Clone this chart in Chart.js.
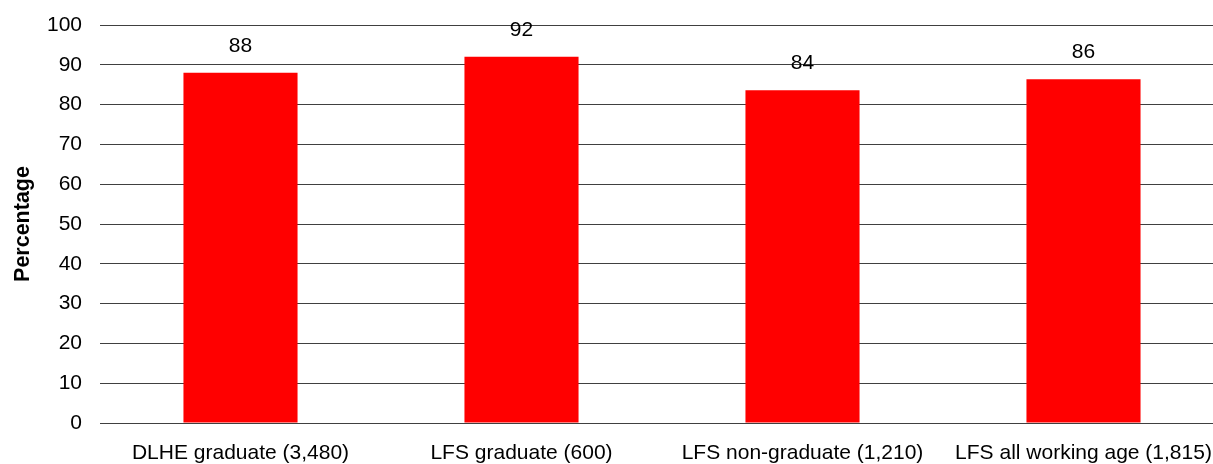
<!DOCTYPE html>
<html>
<head>
<meta charset="utf-8">
<script src="https://cdn.jsdelivr.net/npm/chart.js@4/dist/chart.umd.min.js"></script>
<style>
  html, body { margin: 0; padding: 0; overflow: hidden; background: #fff; }
  #wrap { width: 1224px; height: 464px; }
</style>
</head>
<body>
<div id="wrap"><canvas id="chart" width="1224" height="464"></canvas></div>
<script>
var categories = [
    "DLHE graduate (3,480)",
    "LFS graduate (600)",
    "LFS non-graduate (1,210)",
    "LFS all working age (1,815)"
];
var percentages = [88, 92, 83.6, 86.4];
var yTicks = [0, 10, 20, 30, 40, 50, 60, 70, 80, 90, 100];

var FONT = "'Liberation Sans', Arial, sans-serif";

// draw rounded values above each bar
var barLabels = {
    id: "barLabels",
    afterDatasetsDraw: function(chart) {
        var ctx = chart.ctx;
        var meta = chart.getDatasetMeta(0);
        ctx.save();
        ctx.font = "21px " + FONT;
        ctx.fillStyle = "#000";
        ctx.textAlign = "center";
        ctx.textBaseline = "middle";
        meta.data.forEach(function(bar, i) {
            ctx.fillText(Math.round(percentages[i]), bar.x, bar.y - 27);
        });
        ctx.restore();
    }
};

var chart = new Chart(document.getElementById("chart"), {
    type: "bar",
    data: {
        labels: categories,
        datasets: [{
            data: percentages,
            backgroundColor: "#ff0000",
            borderWidth: 0,
            barPercentage: 0.406,
            categoryPercentage: 1.0,
        }]
    },
    options: {
        responsive: false,
        animation: false,
        devicePixelRatio: 1,
        layout: {
            padding: { top: 25, right: 0, bottom: 0, left: 0 }
        },
        scales: {
            x: {
                grid: { display: false, drawTicks: false },
                border: { display: false },
                ticks: {
                    color: "#000",
                    font: { family: FONT, size: 21 },
                    padding: 18,
                    maxRotation: 0,
                    autoSkip: false,
                },
                afterFit: function(scale) {
                    scale.height = 41;
                    scale.paddingLeft = 0;
                    scale.paddingRight = 0;
                },
            },
            y: {
                min: 0,
                max: 100,
                afterBuildTicks: function(scale) {
                    scale.ticks = yTicks.map(v => ({ value: v }));
                },
                grid: {
                    color: "#404040",
                    lineWidth: 1,
                    drawTicks: false,
                },
                border: { display: false },
                ticks: {
                    color: "#000",
                    font: { family: FONT, size: 21 },
                    padding: 18,
                },
                title: {
                    display: true,
                    text: "Percentage",
                    color: "#000",
                    font: { family: FONT, size: 21.5, weight: "bold" },
                    padding: { top: 10, bottom: 0 },
                },
                afterFit: function(scale) {
                    scale.width = 100;
                    scale.paddingTop = 0;
                    scale.paddingBottom = 0;
                },
            }
        },
        plugins: {
            legend: { display: false },
            tooltip: { enabled: false },
        }
    },
    plugins: [barLabels]
});
</script>
</body>
</html>
